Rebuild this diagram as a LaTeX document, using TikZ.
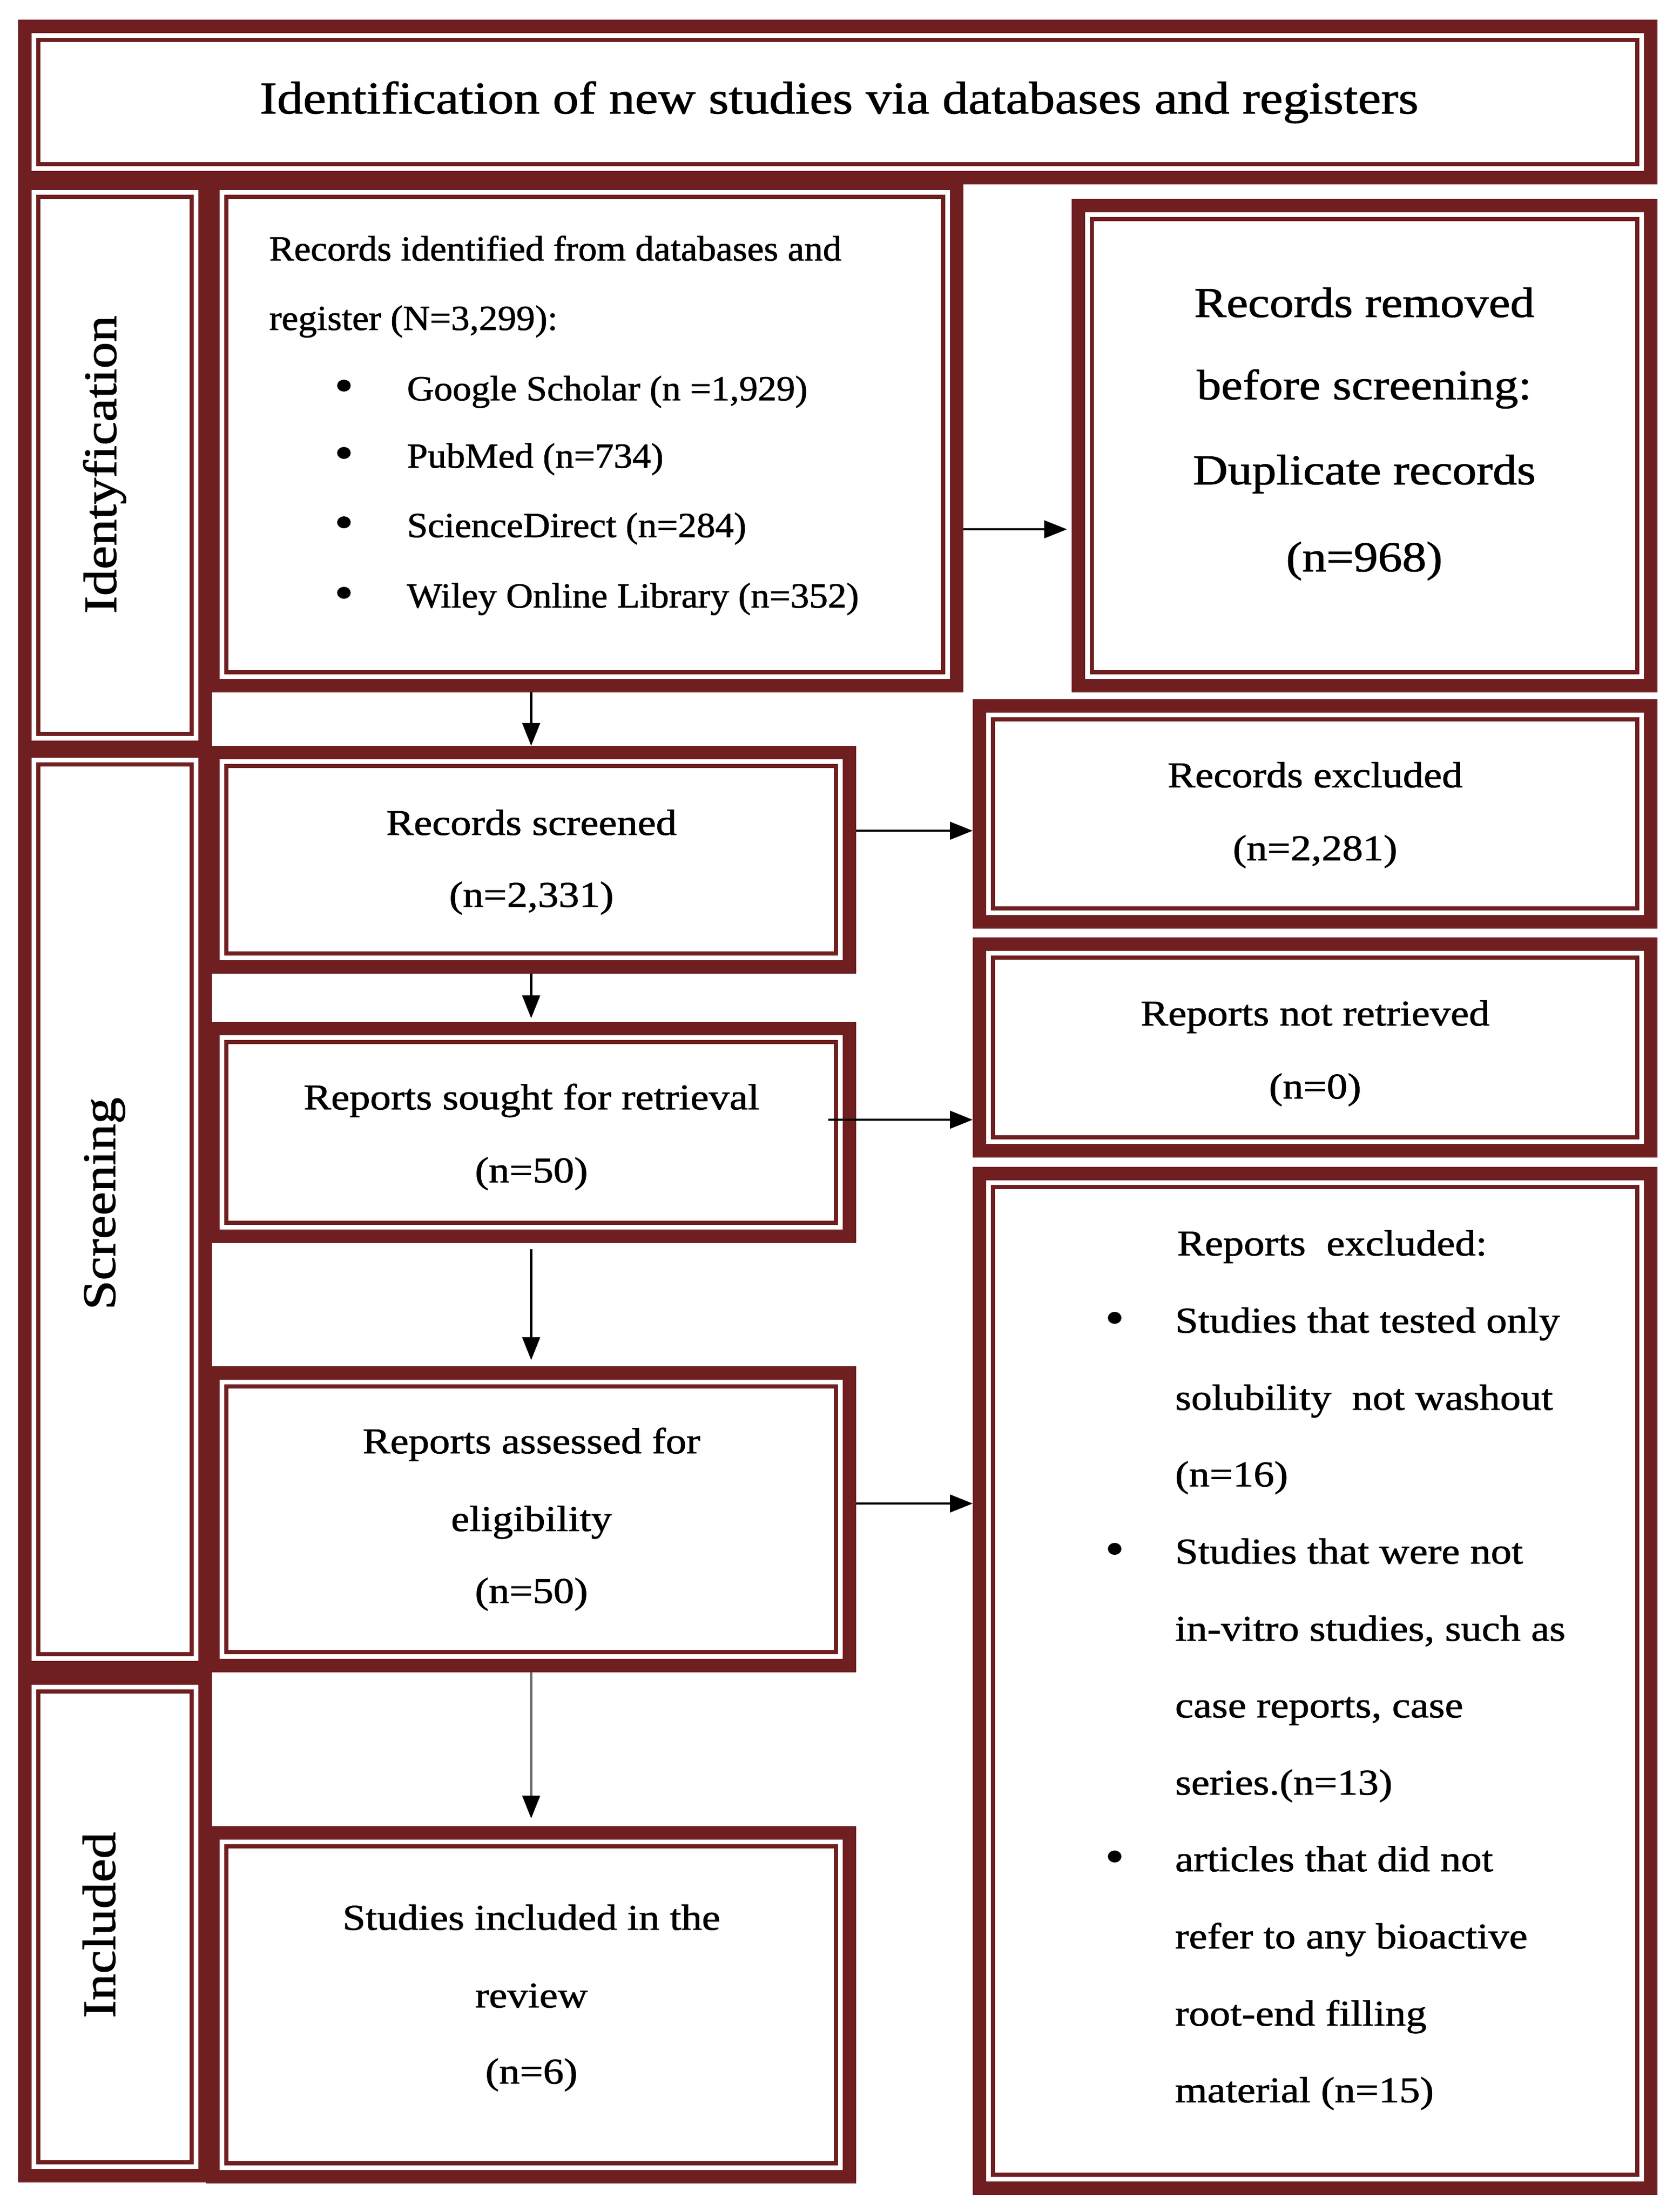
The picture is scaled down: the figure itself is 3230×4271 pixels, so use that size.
\documentclass[tikz,border=0pt]{standalone}
\usepackage{fontspec}
\setmainfont{Liberation Serif}[FakeStretch=1.14,FakeBold=1.2]
\newfontfamily\condfont{Liberation Serif}[FakeStretch=1.06,FakeBold=1.2]
\usetikzlibrary{arrows.meta,calc}
\definecolor{dred}{RGB}{112,31,33}
\definecolor{lgray}{RGB}{110,110,110}
\tikzset{
  frame/.style={fill=dred, inner sep=0pt, outer sep=0pt, anchor=north west,
    path picture={
      \fill[white] ($(path picture bounding box.north west)+(6.5pt,-6.5pt)$) rectangle ($(path picture bounding box.south east)+(-6.5pt,6.5pt)$);
      \draw[dred, line width=2pt] ($(path picture bounding box.north west)+(9.75pt,-9.75pt)$) rectangle ($(path picture bounding box.south east)+(-9.75pt,9.75pt)$);
    }},
  txt/.style={inner sep=0pt, anchor=base, font=\fontsize{17.5}{21}\selectfont},
  ltxt/.style={txt, anchor=base west},
  bul/.style={inner sep=0pt, anchor=base, font=\fontsize{23}{26}\selectfont},
  ctxt/.style={inner sep=0pt, anchor=base west, font=\condfont\fontsize{17}{20}\selectfont},
  bigtxt/.style={inner sep=0pt, anchor=base, font=\fontsize{20.5}{24}\selectfont},
  stage/.style={inner sep=0pt, anchor=base, rotate=90, font=\fontsize{22.5}{27}\selectfont},
  arr/.style={line width=1.1pt, -{Triangle[length=11pt,width=8.5pt,color=black]}}
}
\begin{document}
\begin{tikzpicture}[x=0.25pt, y=-0.25pt]
\useasboundingbox (0,0) rectangle (3230,4271);

% title
\node[frame, minimum width=791.25pt, minimum height=79.5pt] (title) at (35,38) {};
% stage cells
\node[frame, minimum width=93.5pt, minimum height=278.75pt] (ident) at (35,341) {};
\node[frame, minimum width=93.5pt, minimum height=449pt] (screen) at (35,1437) {};
\node[frame, minimum width=93.5pt, minimum height=246.75pt] (incl) at (35,3227) {};
% middle boxes
\node[frame, minimum width=365.5pt, minimum height=249pt] (recid) at (398,341) {};
\node[frame, minimum width=313.75pt, minimum height=110pt] (screened) at (398,1440) {};
\node[frame, minimum width=313.75pt, minimum height=106.75pt] (sought) at (398,1973) {};
\node[frame, minimum width=313.75pt, minimum height=147.75pt] (assessed) at (398,2638) {};
\node[frame, minimum width=313.75pt, minimum height=172.5pt] (studies) at (398,3526) {};
% right boxes
\node[frame, minimum width=282.75pt, minimum height=238.25pt] (dup) at (2069,384) {};
\node[frame, minimum width=330.5pt, minimum height=110.75pt] (recexcl) at (1878,1350) {};
\node[frame, minimum width=330.5pt, minimum height=106.25pt] (notretr) at (1878,1810) {};
\node[frame, minimum width=330.5pt, minimum height=496.25pt] (repexcl) at (1878,2253) {};

% title text
\node[inner sep=0pt, anchor=base, font=\fontsize{22}{26}\selectfont] (ttext) at (1620,219) {Identification of new studies via databases and registers};

% stage labels
\node[stage] (lident) at (224,897) {Identyfication};
\node[stage] (lscreen) at (222,2324) {Screening};
\node[stage] (lincl) at (222,3717) {Included};

% records identified
\node[ctxt] (ri1) at (519,503) {Records identified from databases and};
\node[ctxt] (ri2) at (519,637) {register (N=3,299):};
\node[bul] (rb1) at (664,775) {•};
\node[ctxt] (ri3) at (785,773) {Google Scholar (n =1,929)};
\node[bul] (rb2) at (664,905) {•};
\node[ctxt] (ri4) at (785,903) {PubMed (n=734)};
\node[bul] (rb3) at (664,1039) {•};
\node[ctxt] (ri5) at (785,1037) {ScienceDirect (n=284)};
\node[bul] (rb4) at (664,1175) {•};
\node[ctxt] (ri6) at (785,1173) {Wiley Online Library (n=352)};

% duplicates
\node[bigtxt] (d1) at (2634,612) {Records removed};
\node[bigtxt] (d2) at (2634,771) {before screening:};
\node[bigtxt] (d3) at (2634,935) {Duplicate records};
\node[bigtxt] (d4) at (2634,1103) {(n=968)};

% middle texts
\node[txt] (s1) at (1026,1612) {Records screened};
\node[txt] (s2) at (1026,1751) {(n=2,331)};
\node[txt] (g1) at (1026,2142) {Reports sought for retrieval};
\node[txt] (g2) at (1026,2283) {(n=50)};
\node[txt] (a1t) at (1026,2806) {Reports assessed for};
\node[txt] (a2t) at (1026,2956) {eligibility};
\node[txt] (a3t) at (1026,3095) {(n=50)};
\node[txt] (st1) at (1026,3726) {Studies included in the};
\node[txt] (st2) at (1026,3876) {review};
\node[txt] (st3) at (1026,4023) {(n=6)};

% right texts
\node[txt] (e1) at (2539,1520) {Records excluded};
\node[txt] (e2) at (2539,1661) {(n=2,281)};
\node[txt] (n1) at (2539,1980) {Reports not retrieved};
\node[txt] (n2) at (2539,2121) {(n=0)};
\node[txt] (x0) at (2572,2424) {Reports\ \ excluded:};
\node[bul] (xb1) at (2152,2575) {•};
\node[ltxt] (x1) at (2268,2573) {Studies that tested only};
\node[ltxt] (x2) at (2268,2722) {solubility\ \ not washout};
\node[ltxt] (x3) at (2268,2870) {(n=16)};
\node[bul] (xb2) at (2152,3021) {•};
\node[ltxt] (x4) at (2268,3019) {Studies that were not};
\node[ltxt] (x5) at (2268,3168) {in-vitro studies, such as};
\node[ltxt] (x6) at (2268,3316) {case reports, case};
\node[ltxt] (x7) at (2268,3465) {series.(n=13)};
\node[bul] (xb3) at (2152,3615) {•};
\node[ltxt] (x8) at (2268,3613) {articles that did not};
\node[ltxt] (x9) at (2268,3762) {refer to any bioactive};
\node[ltxt] (x10) at (2268,3911) {root-end filling};
\node[ltxt] (x11) at (2268,4059) {material (n=15)};

% connectors
\coordinate (c1) at ([yshift=-45.75pt]recid.east);
\draw[arr, shorten >=2.25pt] (c1) -- (c1 -| dup.west);
\draw[arr] (screened.north |- recid.south) -- (screened.north);
\coordinate (c2) at ([yshift=14pt]screened.east);
\draw[arr] (c2) -- (c2 -| recexcl.west);
\draw[arr, shorten >=1.75pt] (screened.south) -- (sought.north);
\coordinate (c3) at ([yshift=6.125pt,xshift=-13.5pt]sought.east);
\draw[arr] (c3) -- (c3 -| notretr.west);
\draw[arr, shorten <=3pt, shorten >=3pt] (sought.south) -- (assessed.north);
\coordinate (c4) at ([yshift=7.625pt]assessed.east);
\draw[arr] (c4) -- (c4 -| repexcl.west);
\draw[arr, draw=lgray, shorten >=3.75pt] (assessed.south) -- (studies.north);
\end{tikzpicture}
\end{document}
